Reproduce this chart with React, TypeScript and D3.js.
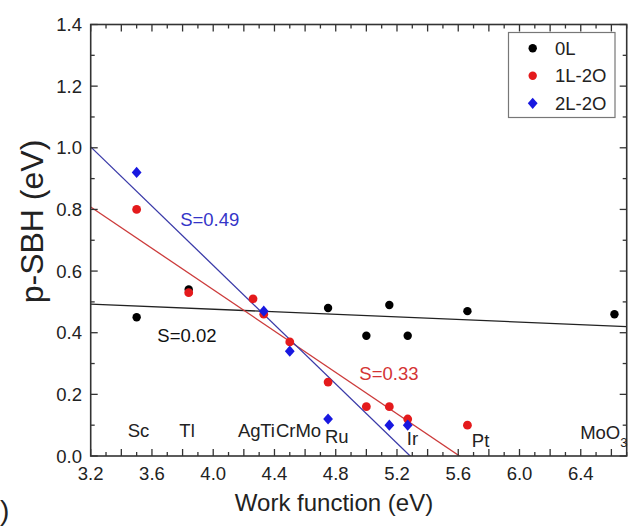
import React from "react";
import * as d3 from "d3";

// Work function (eV) vs p-type Schottky barrier height (eV)
const series0L_x = [3.5, 3.84, 4.75, 5.0, 5.15, 5.27, 5.66, 6.62];
const series0L_y = [0.45, 0.54, 0.48, 0.39, 0.49, 0.39, 0.47, 0.46];

const series1L_x = [3.5, 3.84, 4.26, 4.33, 4.5, 4.75, 5.0, 5.15, 5.27, 5.66];
const series1L_y = [0.8, 0.53, 0.51, 0.46, 0.37, 0.24, 0.16, 0.16, 0.12, 0.1];

const series2L_x = [3.5, 4.33, 4.5, 4.75, 5.15, 5.27];
const series2L_y = [0.92, 0.47, 0.34, 0.12, 0.1, 0.1];

// Linear fits: value at x = 3.2 and slope
const fitNames = ["0L", "1L-2O", "2L-2O"];
const fitStart = [0.493, 0.808, 1.003];
const fitSlope = [-0.0209, -0.3355, -0.4808];
const fitLabels = ["S=0.02", "S=0.33", "S=0.49"];
const fitLabelX = [3.635, 4.954, 3.784];
const fitLabelY = [0.371, 0.247, 0.746];

// Metal names along the bottom (anchored at their left edge, in data units)
const metalNames = ["Sc", "Tl", "Ag", "Ti", "Cr", "Mo", "Ru", "Ir", "Pt"];
const metalX = [3.442, 3.779, 4.162, 4.307, 4.41, 4.537, 4.73, 5.264, 5.689];
const metalY = [0.062, 0.062, 0.062, 0.062, 0.062, 0.062, 0.041, 0.036, 0.03];

const xTickLabels = [3.2, 3.6, 4.0, 4.4, 4.8, 5.2, 5.6, 6.0, 6.4];
const yTickLabels = [0.0, 0.2, 0.4, 0.6, 0.8, 1.0, 1.2, 1.4];

const W = 631;
const H = 527;
const M = { left: 90.7, right: 626.7, top: 24.5, bottom: 456 };
const FONT = "'Liberation Sans', Arial, sans-serif";

const BLACK = "#000000";
const RED = "#e41a1c";
const BLUE = "#1818e0";
const lineColors = ["#222222", "#cc3b3b", "#3a3aa8"];
const labelColors = ["#111111", "#d43434", "#3535c8"];

// diamond marker, slightly taller than wide
const DIAMOND = "M0,-5.6L4.9,0L0,5.6L-4.9,0Z";

export default function App() {
  const x = d3.scaleLinear().domain([3.2, 6.7]).range([M.left, M.right]);
  const y = d3.scaleLinear().domain([0, 1.4]).range([M.bottom, M.top]);

  const xMinor = d3.range(32, 68).map((v) => v / 10);
  const yMinor = d3.range(0, 15).map((v) => v / 10);
  const isMajor = (v: number) => Math.abs(Math.round(v * 5) - v * 5) < 1e-6;

  const fits = fitStart.map((s, i) => {
    const xs = [3.2, 6.7];
    const pts = xs.map((xv) => [x(xv), y(s + fitSlope[i] * (xv - 3.2))] as [number, number]);
    return d3.line()(pts) as string;
  });

  const axisColor = "#333333";

  return (
    <svg
      width={W}
      height={H}
      style={{ position: "absolute", left: 0, top: 0, background: "#fff" }}
      fontFamily={FONT}
    >
      <defs>
        <clipPath id="plotClip">
          <rect x={M.left} y={M.top} width={M.right - M.left} height={M.bottom - M.top} />
        </clipPath>
      </defs>

      {/* fit lines */}
      <g clipPath="url(#plotClip)">
        {fits.map((d, i) => (
          <path key={fitNames[i]} d={d} fill="none" stroke={lineColors[i]} strokeWidth={1.3} />
        ))}
      </g>

      {/* frame */}
      <rect
        x={M.left}
        y={M.top}
        width={M.right - M.left}
        height={M.bottom - M.top}
        fill="none"
        stroke={axisColor}
        strokeWidth={1.6}
      />

      {/* ticks on all four sides, pointing inward */}
      {xMinor.map((v) => {
        const len = isMajor(v) ? 7 : 4;
        const px = x(v);
        return (
          <g key={"xt" + v} stroke={axisColor} strokeWidth={1.3}>
            <line x1={px} x2={px} y1={M.bottom} y2={M.bottom - len} />
            <line x1={px} x2={px} y1={M.top} y2={M.top + len} />
          </g>
        );
      })}
      {yMinor.map((v) => {
        const len = isMajor(v) ? 7 : 4;
        const py = y(v);
        return (
          <g key={"yt" + v} stroke={axisColor} strokeWidth={1.3}>
            <line x1={M.left} x2={M.left + len} y1={py} y2={py} />
            <line x1={M.right} x2={M.right - len} y1={py} y2={py} />
          </g>
        );
      })}

      {/* tick labels */}
      {xTickLabels.map((v) => (
        <text key={"xl" + v} x={x(v)} y={480} textAnchor="middle" fontSize={18.5} fill="#222">
          {v.toFixed(1)}
        </text>
      ))}
      {yTickLabels.map((v) => (
        <text key={"yl" + v} x={82} y={y(v) + 6.5} textAnchor="end" fontSize={18.5} fill="#222">
          {v.toFixed(1)}
        </text>
      ))}

      {/* axis titles */}
      <text x={334} y={511} textAnchor="middle" fontSize={24} fill="#222">
        Work function (eV)
      </text>
      <text
        transform={`translate(43,${221.5}) rotate(-90)`}
        textAnchor="middle"
        fontSize={32}
        fill="#222"
      >
        p-SBH (eV)
      </text>

      {/* panel label fragment */}
      <text x={0} y={520} fontSize={28} fill="#222">
        )
      </text>

      {/* metal labels */}
      {metalNames.map((n, i) => (
        <text key={n} x={x(metalX[i])} y={y(metalY[i])} fontSize={18.5} fill="#222">
          {n}
        </text>
      ))}
      <text x={x(6.396)} y={y(0.054)} fontSize={18.5} fill="#222">
        MoO
        <tspan fontSize={13} dy={8}>
          3
        </tspan>
      </text>

      {/* slope labels */}
      {fitLabels.map((t, i) => (
        <text key={t} x={x(fitLabelX[i])} y={y(fitLabelY[i])} fontSize={18.5} fill={labelColors[i]}>
          {t}
        </text>
      ))}

      {/* data points */}
      {series0L_x.map((v, i) => (
        <circle key={"b" + i} cx={x(v)} cy={y(series0L_y[i])} r={4.2} fill={BLACK} />
      ))}
      {series1L_x.map((v, i) => (
        <circle key={"r" + i} cx={x(v)} cy={y(series1L_y[i])} r={4.4} fill={RED} />
      ))}
      {series2L_x.map((v, i) => (
        <path
          key={"d" + i}
          d={DIAMOND}
          transform={`translate(${x(v)},${y(series2L_y[i])})`}
          fill={BLUE}
        />
      ))}

      {/* legend */}
      <rect x={508.5} y={32.5} width={106.5} height={85} fill="#fff" stroke="#777" strokeWidth={1.2} />
      {fitNames.map((n, i) => {
        const cy = 48.3 + i * 27.5;
        return (
          <g key={"lg" + n}>
            {i === 2 ? (
              <path d={DIAMOND} transform={`translate(532.7,${cy})`} fill={BLUE} />
            ) : (
              <circle cx={532.7} cy={cy} r={4.2} fill={i === 0 ? BLACK : RED} />
            )}
            <text x={555} y={cy + 6.5} fontSize={18.5} fill="#222">
              {n}
            </text>
          </g>
        );
      })}
    </svg>
  );
}
